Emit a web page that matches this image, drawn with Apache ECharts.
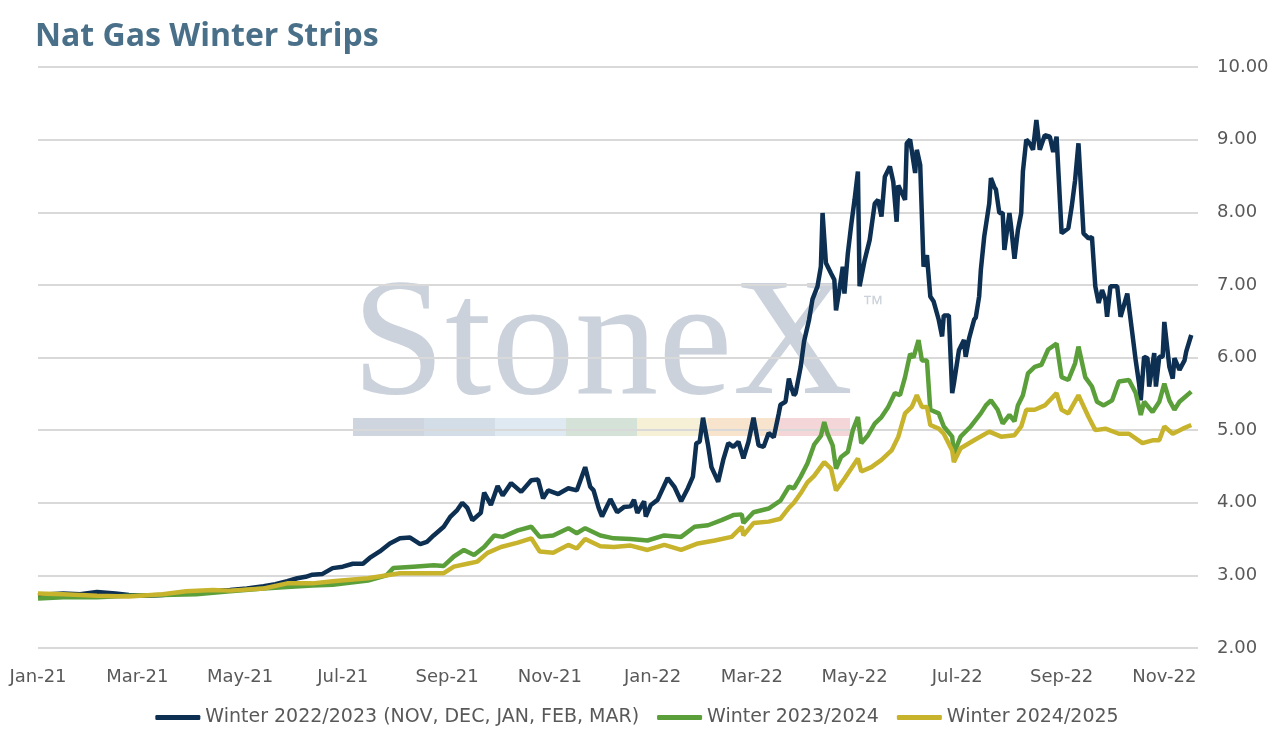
<!DOCTYPE html>
<html>
<head>
<meta charset="utf-8">
<title>Nat Gas Winter Strips</title>
<script src="https://cdn.jsdelivr.net/npm/echarts@6/dist/echarts.min.js"></script>
<style>
  html, body { margin: 0; padding: 0; background: #fff; }
  #chart { width: 1274px; height: 739px; }
</style>
</head>
<body>
<div id="chart"></div>
<script>
// Winter 2022/2023 strip (NOV-MAR)
const w22Dates = [
  '2021-01-01','2021-01-08','2021-01-16','2021-01-26','2021-02-05','2021-02-16','2021-02-24','2021-03-07',
  '2021-03-16','2021-03-26','2021-04-05','2021-04-15','2021-04-25','2021-05-05','2021-05-15','2021-05-22',
  '2021-05-29','2021-06-04','2021-06-09','2021-06-13','2021-06-19','2021-06-25','2021-07-01','2021-07-07',
  '2021-07-13','2021-07-17','2021-07-23','2021-07-29','2021-08-04','2021-08-10','2021-08-16','2021-08-20',
  '2021-08-24','2021-08-30','2021-09-03','2021-09-07','2021-09-10','2021-09-13','2021-09-16','2021-09-21',
  '2021-09-23','2021-09-27','2021-10-01','2021-10-04','2021-10-09','2021-10-15','2021-10-21','2021-10-25',
  '2021-10-28','2021-10-31','2021-11-06','2021-11-12','2021-11-17','2021-11-22','2021-11-25','2021-11-27',
  '2021-11-30','2021-12-02','2021-12-07','2021-12-11','2021-12-15','2021-12-19','2021-12-21','2021-12-23',
  '2021-12-27','2021-12-28','2021-12-31','2022-01-04','2022-01-10','2022-01-14','2022-01-18','2022-01-22',
  '2022-01-25','2022-01-27','2022-01-29','2022-01-31','2022-02-03','2022-02-05','2022-02-09','2022-02-12',
  '2022-02-15','2022-02-18','2022-02-21','2022-02-24','2022-02-27','2022-03-02','2022-03-05','2022-03-08',
  '2022-03-11','2022-03-14','2022-03-17','2022-03-18','2022-03-21','2022-03-23','2022-03-24','2022-03-26',
  '2022-03-27','2022-03-30','2022-04-01','2022-04-04','2022-04-06','2022-04-09','2022-04-11','2022-04-12',
  '2022-04-14','2022-04-17','2022-04-19','2022-04-20','2022-04-22','2022-04-24','2022-04-25','2022-04-27',
  '2022-04-29','2022-05-01','2022-05-03','2022-05-04','2022-05-07','2022-05-10','2022-05-13','2022-05-15',
  '2022-05-17','2022-05-19','2022-05-22','2022-05-24','2022-05-26','2022-05-27','2022-05-31','2022-06-01',
  '2022-06-03','2022-06-06','2022-06-07','2022-06-09','2022-06-11','2022-06-13','2022-06-15','2022-06-17',
  '2022-06-20','2022-06-22','2022-06-23','2022-06-26','2022-06-28','2022-06-29','2022-07-02','2022-07-05',
  '2022-07-06','2022-07-08','2022-07-11','2022-07-12','2022-07-14','2022-07-15','2022-07-17','2022-07-20',
  '2022-07-21','2022-07-23','2022-07-24','2022-07-26','2022-07-28','2022-07-29','2022-08-01','2022-08-02',
  '2022-08-04','2022-08-06','2022-08-08','2022-08-09','2022-08-11','2022-08-13','2022-08-15','2022-08-17',
  '2022-08-19','2022-08-22','2022-08-25','2022-08-27','2022-08-29','2022-09-01','2022-09-05','2022-09-07',
  '2022-09-09','2022-09-11','2022-09-14','2022-09-17','2022-09-19','2022-09-21','2022-09-23','2022-09-25',
  '2022-09-27','2022-09-28','2022-09-30','2022-10-04','2022-10-06','2022-10-10','2022-10-13','2022-10-15',
  '2022-10-17','2022-10-18','2022-10-20','2022-10-22','2022-10-23','2022-10-26','2022-10-27','2022-10-29',
  '2022-10-31','2022-11-01','2022-11-04','2022-11-06','2022-11-07','2022-11-10','2022-11-13','2022-11-14',
  '2022-11-17'
];
const w22Values = [
  2.72, 2.74, 2.75, 2.74, 2.77, 2.75, 2.73, 2.72,
  2.73, 2.75, 2.76, 2.79, 2.80, 2.82, 2.85, 2.88,
  2.92, 2.96, 2.98, 3.01, 3.02, 3.10, 3.12, 3.16,
  3.16, 3.24, 3.33, 3.44, 3.51, 3.52, 3.43, 3.46,
  3.55, 3.67, 3.81, 3.90, 4.00, 3.93, 3.76, 3.86,
  4.14, 3.97, 4.23, 4.10, 4.27, 4.15, 4.31, 4.32,
  4.06, 4.17, 4.12, 4.20, 4.17, 4.49, 4.22, 4.17,
  3.93, 3.81, 4.05, 3.87, 3.94, 3.95, 4.04, 3.86,
  4.02, 3.81, 3.97, 4.04, 4.34, 4.22, 4.02, 4.20,
  4.36, 4.82, 4.84, 5.17, 4.79, 4.49, 4.29, 4.59,
  4.82, 4.77, 4.84, 4.61, 4.84, 5.17, 4.79, 4.77,
  4.96, 4.90, 5.23, 5.35, 5.39, 5.71, 5.62, 5.48,
  5.51, 5.87, 6.22, 6.52, 6.80, 6.98, 7.25, 7.99,
  7.30, 7.16, 7.07, 6.65, 6.93, 7.25, 6.88, 7.43,
  7.82, 8.17, 8.56, 6.98, 7.34, 7.62, 8.12, 8.17,
  7.94, 8.49, 8.63, 8.42, 7.87, 8.37, 8.17, 8.95,
  9.00, 8.54, 8.86, 8.65, 7.25, 7.41, 6.84, 6.77,
  6.52, 6.29, 6.58, 6.58, 5.51, 5.64, 6.10, 6.24,
  6.01, 6.26, 6.52, 6.55, 6.84, 7.20, 7.66, 8.12,
  8.47, 8.35, 8.31, 7.99, 7.99, 7.48, 7.99, 7.80,
  7.36, 7.75, 7.99, 8.56, 9.00, 8.95, 8.86, 9.27,
  8.86, 9.06, 9.04, 8.83, 9.04, 7.71, 7.78, 8.08,
  8.44, 8.95, 7.71, 7.64, 7.66, 6.98, 6.75, 6.93,
  6.80, 6.56, 6.98, 6.98, 6.56, 6.88, 6.33, 5.96,
  5.64, 5.41, 6.01, 5.99, 5.60, 6.06, 5.60, 6.01,
  6.01, 6.49, 5.87, 5.71, 5.99, 5.83, 5.96, 6.08,
  6.31
];

// Winter 2023/2024 strip
const w23Dates = [
  '2021-01-01','2021-01-16','2021-02-05','2021-02-24','2021-03-16','2021-04-05','2021-04-25','2021-05-15',
  '2021-05-29','2021-06-13','2021-06-25','2021-07-16','2021-07-27','2021-07-31','2021-08-12','2021-08-24',
  '2021-08-30','2021-09-05','2021-09-11','2021-09-17','2021-09-23','2021-09-29','2021-10-04','2021-10-13',
  '2021-10-21','2021-10-26','2021-11-03','2021-11-12','2021-11-17','2021-11-22','2021-12-01','2021-12-09',
  '2021-12-19','2021-12-29','2022-01-08','2022-01-18','2022-01-26','2022-02-03','2022-02-11','2022-02-18',
  '2022-02-23','2022-02-24','2022-03-02','2022-03-11','2022-03-18','2022-03-23','2022-03-26','2022-03-30',
  '2022-04-03','2022-04-07','2022-04-11','2022-04-13','2022-04-15','2022-04-18','2022-04-20','2022-04-23',
  '2022-04-27','2022-04-30','2022-05-03','2022-05-05','2022-05-09','2022-05-13','2022-05-17','2022-05-21',
  '2022-05-25','2022-05-28','2022-05-31','2022-06-03','2022-06-05','2022-06-08','2022-06-10','2022-06-13',
  '2022-06-15','2022-06-20','2022-06-23','2022-06-28','2022-06-29','2022-07-03','2022-07-09','2022-07-15',
  '2022-07-18','2022-07-21','2022-07-25','2022-07-28','2022-08-01','2022-08-04','2022-08-06','2022-08-09',
  '2022-08-12','2022-08-16','2022-08-20','2022-08-24','2022-08-29','2022-09-01','2022-09-05','2022-09-09',
  '2022-09-11','2022-09-15','2022-09-19','2022-09-22','2022-09-26','2022-10-01','2022-10-05','2022-10-11',
  '2022-10-15','2022-10-18','2022-10-20','2022-10-25','2022-10-29','2022-11-01','2022-11-04','2022-11-07',
  '2022-11-10','2022-11-17'
];
const w23Values = [
  2.68, 2.70, 2.70, 2.72, 2.73, 2.74, 2.78, 2.82,
  2.84, 2.86, 2.87, 2.93, 3.00, 3.10, 3.12, 3.14,
  3.13, 3.26, 3.35, 3.28, 3.39, 3.55, 3.53, 3.62,
  3.67, 3.53, 3.55, 3.65, 3.58, 3.65, 3.55, 3.51,
  3.50, 3.48, 3.55, 3.53, 3.67, 3.69, 3.76, 3.83,
  3.84, 3.72, 3.87, 3.92, 4.03, 4.22, 4.20, 4.36,
  4.54, 4.80, 4.92, 5.11, 4.95, 4.79, 4.47, 4.63,
  4.70, 5.00, 5.18, 4.82, 4.93, 5.09, 5.18, 5.32,
  5.51, 5.48, 5.73, 6.05, 6.00, 6.24, 5.96, 5.96,
  5.28, 5.23, 5.05, 4.91, 4.68, 4.91, 5.05, 5.23,
  5.34, 5.41, 5.28, 5.09, 5.21, 5.12, 5.34, 5.48,
  5.78, 5.87, 5.90, 6.11, 6.19, 5.73, 5.69, 5.92,
  6.15, 5.73, 5.60, 5.39, 5.34, 5.41, 5.67, 5.69,
  5.51, 5.21, 5.39, 5.25, 5.39, 5.64, 5.41, 5.28,
  5.39, 5.53
];

// Winter 2024/2025 strip
const w24Dates = [
  '2021-01-01','2021-01-16','2021-02-05','2021-02-24','2021-03-16','2021-03-30','2021-04-15','2021-04-25',
  '2021-05-15','2021-05-29','2021-06-13','2021-06-25','2021-07-16','2021-08-04','2021-08-30','2021-09-05',
  '2021-09-13','2021-09-19','2021-09-25','2021-10-03','2021-10-13','2021-10-21','2021-10-26','2021-11-03',
  '2021-11-12','2021-11-17','2021-11-22','2021-12-01','2021-12-09','2021-12-19','2021-12-29','2022-01-08',
  '2022-01-18','2022-01-28','2022-02-07','2022-02-17','2022-02-23','2022-02-24','2022-03-02','2022-03-11',
  '2022-03-18','2022-03-23','2022-03-26','2022-03-30','2022-04-03','2022-04-07','2022-04-13','2022-04-17',
  '2022-04-20','2022-04-25','2022-05-03','2022-05-05','2022-05-11','2022-05-17','2022-05-23','2022-05-27',
  '2022-05-31','2022-06-04','2022-06-07','2022-06-10','2022-06-13','2022-06-15','2022-06-20','2022-06-23',
  '2022-06-28','2022-06-29','2022-07-03','2022-07-11','2022-07-20','2022-07-27','2022-08-04','2022-08-08',
  '2022-08-11','2022-08-16','2022-08-22','2022-08-29','2022-09-01','2022-09-05','2022-09-11','2022-09-17',
  '2022-09-21','2022-09-27','2022-10-05','2022-10-11','2022-10-19','2022-10-25','2022-10-29','2022-11-01',
  '2022-11-06','2022-11-12','2022-11-17'
];
const w24Values = [
  2.75, 2.74, 2.72, 2.71, 2.74, 2.78, 2.80, 2.79,
  2.82, 2.89, 2.89, 2.92, 2.96, 3.03, 3.03, 3.12,
  3.16, 3.19, 3.31, 3.39, 3.45, 3.51, 3.33, 3.31,
  3.42, 3.37, 3.50, 3.40, 3.39, 3.41, 3.35, 3.42,
  3.35, 3.44, 3.48, 3.53, 3.67, 3.55, 3.72, 3.74,
  3.78, 3.93, 4.00, 4.13, 4.28, 4.37, 4.56, 4.47,
  4.17, 4.33, 4.61, 4.43, 4.49, 4.59, 4.72, 4.91,
  5.23, 5.32, 5.48, 5.32, 5.32, 5.07, 5.02, 4.95,
  4.72, 4.56, 4.75, 4.86, 4.98, 4.91, 4.93, 5.05,
  5.28, 5.28, 5.34, 5.51, 5.28, 5.23, 5.48, 5.18,
  5.00, 5.02, 4.95, 4.95, 4.82, 4.86, 4.86, 5.05,
  4.95, 5.02, 5.07
];

const seriesNames = [
  'Winter 2022/2023 (NOV, DEC, JAN, FEB, MAR)',
  'Winter 2023/2024',
  'Winter 2024/2025'
];
const seriesColors = ['#0c2f52', '#5b9f3b', '#c7b32c'];
const monthNames = ['Jan','Feb','Mar','Apr','May','Jun','Jul','Aug','Sep','Oct','Nov','Dec'];

const font = '"DejaVu Sans"';
const textGray = '#595959';

function pairs(dates, values) {
  return dates.map((d, i) => [d, values[i]]);
}

let chart = echarts.init(document.getElementById('chart'));

// watermark bar colours
const barColors = ['#ced5de', '#d3dde8', '#dfe9f2', '#d5e2d7', '#f6f1d6', '#f8e4cd', '#f4d6d8'];
let watermark = [
  {
    type: 'text', left: 352, top: 266, z: -10,
    style: { text: 'StoneX', fill: '#cbd2db', font: '167px "Liberation Serif"' }
  },
  {
    type: 'text', left: 862, top: 294, z: -10,
    style: { text: '™', fill: '#cbd2db', font: '22px "Liberation Sans"' }
  }
];
barColors.forEach(function (c, i) {
  watermark.push({
    type: 'rect', z: -10,
    shape: { x: 353 + i * 71, y: 418, width: 71, height: 18 },
    style: { fill: c }
  });
});

let option = {
  animation: false,
  title: {
    text: 'Nat Gas Winter Strips',
    left: 30,
    top: 16,
    textStyle: { color: '#4a7089', fontSize: 32, fontWeight: 'bold', fontFamily: '"Open Sans"' }
  },
  graphic: watermark,
  legend: {
    bottom: 7,
    left: 'center',
    icon: 'roundRect',
    itemWidth: 45,
    itemHeight: 5,
    itemGap: 18,
    textStyle: { color: textGray, fontSize: 19, fontFamily: font },
    data: seriesNames
  },
  grid: { left: 38, right: 76, top: 67, bottom: 91 },
  xAxis: {
    type: 'time',
    min: '2021-01-01',
    max: '2022-11-21',
    splitNumber: 10,
    axisLine: { show: false },
    axisTick: { show: false },
    splitLine: { show: false },
    axisLabel: {
      color: textGray,
      fontSize: 18,
      fontFamily: font,
      margin: 20,
      showMaxLabel: false,
      formatter: function (v) {
        let d = new Date(v);
        return monthNames[d.getMonth()] + '-' + String(d.getFullYear()).slice(2);
      }
    }
  },
  yAxis: {
    type: 'value',
    position: 'right',
    min: 2,
    max: 10,
    interval: 1,
    axisLine: { show: false },
    axisTick: { show: false },
    splitLine: { lineStyle: { color: '#d9d9d9', width: 2 } },
    axisLabel: {
      color: textGray,
      fontSize: 18,
      fontFamily: font,
      margin: 19,
      formatter: function (v) { return v.toFixed(2); }
    }
  },
  series: [
    { name: seriesNames[0], data: pairs(w22Dates, w22Values) },
    { name: seriesNames[1], data: pairs(w23Dates, w23Values) },
    { name: seriesNames[2], data: pairs(w24Dates, w24Values) }
  ].map(function (s, i) {
    return Object.assign(s, {
      type: 'line',
      showSymbol: false,
      symbol: 'none',
      color: seriesColors[i],
      lineStyle: { width: 4.5, color: seriesColors[i] }
    });
  })
};

chart.setOption(option);
</script>
</body>
</html>
